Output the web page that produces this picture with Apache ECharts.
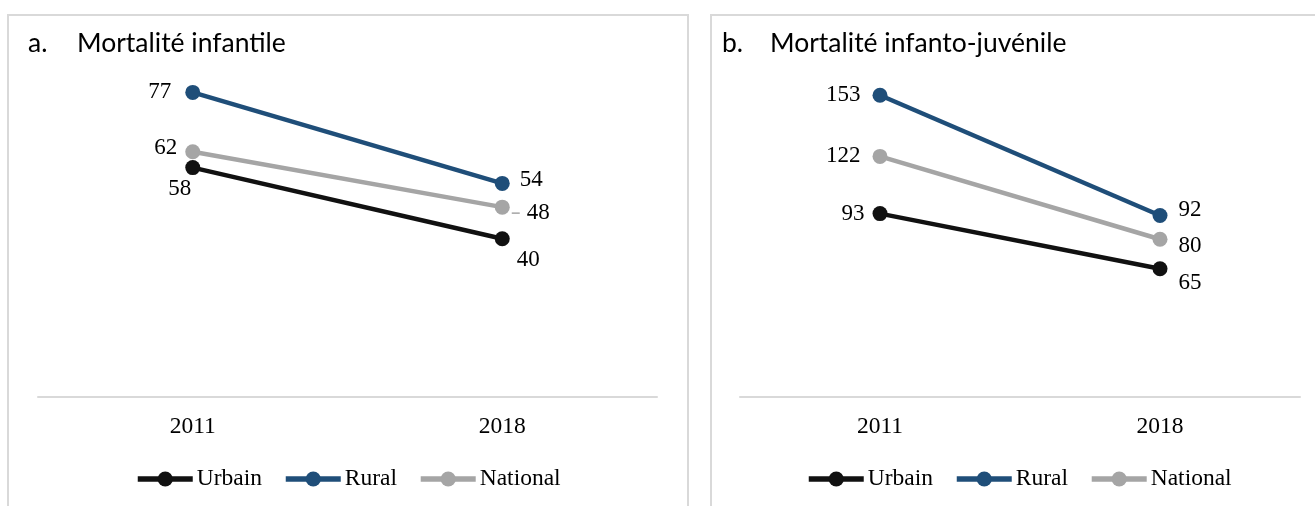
<!DOCTYPE html>
<html>
<head>
<meta charset="utf-8">
<script src="https://cdn.jsdelivr.net/npm/echarts@6/dist/echarts.min.js"></script>
<style>
  html, body { margin: 0; padding: 0; background: #fff; }
  #chart { width: 1315px; height: 506px; }
</style>
</head>
<body>
<div id="chart"></div>
<script>
// données
const years = ['2011', '2018'];
const seriesNames = ['Urbain', 'Rural', 'National'];
const colors = ['#111111', '#1F4E79', '#A5A5A5'];

// a. Mortalité infantile
const infUrbain = [58, 40];
const infRural = [77, 54];
const infNational = [62, 48];

// b. Mortalité infanto-juvénile
const juvUrbain = [93, 65];
const juvRural = [153, 92];
const juvNational = [122, 80];

const serif = '"Liberation Serif", "Times New Roman", serif';
const sans = 'Lato, "Noto Sans", sans-serif';

// étiquette avec petit trait de rappel (comme le 48 dans Excel)
const leaderLabel = {
  position: 'right', distance: 2, offset: [0, 6],
  formatter: '{l|}{v|{c}}',
  rich: {
    l: { width: 8, height: 1.5, backgroundColor: '#A5A5A5', verticalAlign: 'middle' },
    v: { padding: [0, 0, 0, 7], fontFamily: serif, fontSize: 23, color: '#000' }
  }
};

// position des étiquettes pour chaque point [2011, 2018]
const labelsA = {
  Urbain: [{ position: 'bottom', distance: 1, offset: [-13, 1] }, { position: 'bottom', distance: 1, offset: [26, 1] }],
  Rural: [{ position: 'left', distance: 14 }, { position: 'right', distance: 10, offset: [0, -3] }],
  National: [{ position: 'left', distance: 8, offset: [0, -4] }, leaderLabel]
};
const labelsB = {
  Urbain: [{ position: 'left', distance: 8 }, { position: 'right', distance: 11, offset: [0, 14] }],
  Rural: [{ position: 'left', distance: 12 }, { position: 'right', distance: 11, offset: [0, -6] }],
  National: [{ position: 'left', distance: 12 }, { position: 'right', distance: 11, offset: [0, 7] }]
};

function makeSeries(name, values, idx, axis, labels) {
  return {
    name: name,
    type: 'line',
    xAxisIndex: axis,
    yAxisIndex: axis,
    symbol: 'circle',
    symbolSize: 15,
    color: colors[idx],
    lineStyle: { width: 4.5, color: colors[idx] },
    itemStyle: { color: colors[idx] },
    label: { show: true, color: '#000', fontFamily: serif, fontSize: 23 },
    data: values.map((v, i) => ({ value: v, label: labels[name][i] })),
    animation: false
  };
}

const chart = echarts.init(document.getElementById('chart'));

const axisCommon = {
  type: 'category',
  data: years,
  boundaryGap: true,
  axisLine: { lineStyle: { color: '#D9D9D9', width: 2 } },
  axisTick: { show: false },
  axisLabel: { color: '#000', fontFamily: serif, fontSize: 23.5, margin: 18 }
};
const yCommon = { type: 'value', min: 0, show: false, splitLine: { show: false } };

const legendCommon = {
  data: seriesNames,
  bottom: 10,
  itemWidth: 55,
  itemHeight: 19,
  itemGap: 21,
  lineStyle: { width: 5.5 },
  textStyle: { color: '#000', fontFamily: serif, fontSize: 23.5, padding: [0, 0, 0, -1] }
};

const titleStyle = { fontFamily: sans, fontSize: 26.5, fontWeight: 'normal', color: '#000' };

chart.setOption({
  animation: false,
  title: [
    { text: 'a.', left: 23, top: 25, textStyle: titleStyle },
    { text: 'Mortalité infantile', left: 72, top: 25, textStyle: titleStyle },
    { text: 'b.', left: 717, top: 25, textStyle: titleStyle },
    { text: 'Mortalité infanto-juvénile', left: 765, top: 25, textStyle: titleStyle }
  ],
  grid: [
    { left: 38, width: 619, top: 41, height: 356 },
    { left: 740, width: 560, top: 42, height: 355 }
  ],
  xAxis: [
    Object.assign({ gridIndex: 0 }, axisCommon),
    Object.assign({ gridIndex: 1 }, axisCommon)
  ],
  yAxis: [
    Object.assign({ gridIndex: 0, max: 90 }, yCommon),
    Object.assign({ gridIndex: 1, max: 180 }, yCommon)
  ],
  legend: [
    Object.assign({}, legendCommon, { left: 130 }),
    Object.assign({}, legendCommon, { left: 801 })
  ],
  graphic: [
    { type: 'rect', shape: { x: 8, y: 15, width: 680, height: 520 }, style: { fill: 'none', stroke: '#D9D9D9', lineWidth: 2 }, z: -1 },
    { type: 'rect', shape: { x: 711, y: 15, width: 640, height: 520 }, style: { fill: 'none', stroke: '#D9D9D9', lineWidth: 2 }, z: -1 }
  ],
  series: [
    makeSeries('Urbain', infUrbain, 0, 0, labelsA),
    makeSeries('Rural', infRural, 1, 0, labelsA),
    makeSeries('National', infNational, 2, 0, labelsA),
    makeSeries('Urbain', juvUrbain, 0, 1, labelsB),
    makeSeries('Rural', juvRural, 1, 1, labelsB),
    makeSeries('National', juvNational, 2, 1, labelsB)
  ]
});
</script>
</body>
</html>
